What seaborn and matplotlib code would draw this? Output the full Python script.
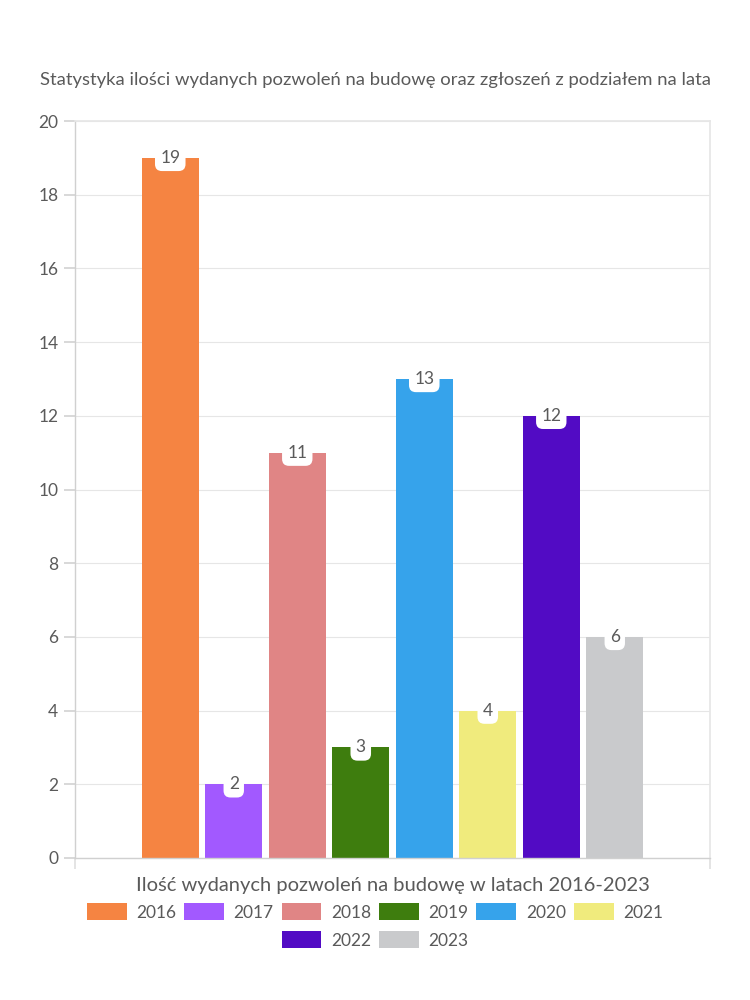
import matplotlib
matplotlib.use("Agg")
import matplotlib.pyplot as plt
import seaborn as sns
import pandas as pd
from matplotlib.patches import Patch

years = ["2016", "2017", "2018", "2019", "2020", "2021", "2022", "2023"]
values = [19, 2, 11, 3, 13, 4, 12, 6]
colors = ["#F58442", "#A259FF", "#E08585", "#3E7D0E", "#36A3EB", "#F0EB7D", "#520BC4", "#C9CACC"]
title = "Statystyka ilości wydanych pozwoleń na budowę oraz zgłoszeń z podziałem na lata"
xlabel = "Ilość wydanych pozwoleń na budowę w latach 2016-2023"
yticks = [0, 2, 4, 6, 8, 10, 12, 14, 16, 18, 20]

sns.set_theme(style="white")
plt.rcParams["font.family"] = ["Lato", "DejaVu Sans"]
txt = "#5a5a5a"

df = pd.DataFrame({"cat": [""] * len(years), "year": years, "value": values})

fig = plt.figure(figsize=(7.5, 10), dpi=100)
ax = fig.add_axes([0.1, 0.142, 0.8467, 0.737])
sns.barplot(data=df, x="cat", y="value", hue="year", palette=colors, hue_order=years,
            width=0.8, gap=0.1, legend=False, ax=ax, saturation=1, linewidth=0)

ax.set_xlim(-0.5, 0.5)
ax.set_ylim(0, 20)
ax.set_yticks(yticks)
ax.set_yticklabels([str(t) for t in yticks], fontsize=12.5, color=txt)
ax.yaxis.grid(True, color="#e6e6e6", linewidth=0.8)
ax.set_axisbelow(True)
for s in ["left", "bottom"]:
    ax.spines[s].set_visible(True)
    ax.spines[s].set_color("#d0d0d0")
    ax.spines[s].set_linewidth(1)
ax.spines["right"].set_color("#e6e6e6")
ax.spines["top"].set_color("#e6e6e6")
ax.tick_params(axis="y", length=8, color="#d4d4d4", pad=4, left=True)
ax.set_xticks([-0.5, 0.5])
ax.set_xticklabels(["", ""])
ax.tick_params(axis="x", length=8, color="#e0e0e0", bottom=True)
ax.set_xlabel(xlabel, fontsize=14.5, color=txt, labelpad=2)
ax.set_ylabel("")

for bar, v in zip(ax.patches, values):
    cx = bar.get_x() + bar.get_width() / 2
    ax.annotate(str(v), (cx, v), ha="center", va="center", fontsize=12.5, color=txt,
                bbox=dict(boxstyle="round,pad=0.3,rounding_size=0.4", fc="white", ec="none"))

fig.text(0.5, 0.92, title, ha="center", va="center", fontsize=13.3, color=txt)

handles = [Patch(facecolor=c, edgecolor="none") for c in colors]
kw = dict(frameon=False, fontsize=12.5, handlelength=2.3, handleheight=1.1,
          columnspacing=0.45, handletextpad=0.55, labelcolor=txt)
fig.legend(handles[:6], years[:6], loc="center", bbox_to_anchor=(0.5, 0.088), ncol=6, **kw)
fig.legend(handles[6:], years[6:], loc="center", bbox_to_anchor=(0.5, 0.06), ncol=2, **kw)

fig.savefig("out.png", dpi=100)
